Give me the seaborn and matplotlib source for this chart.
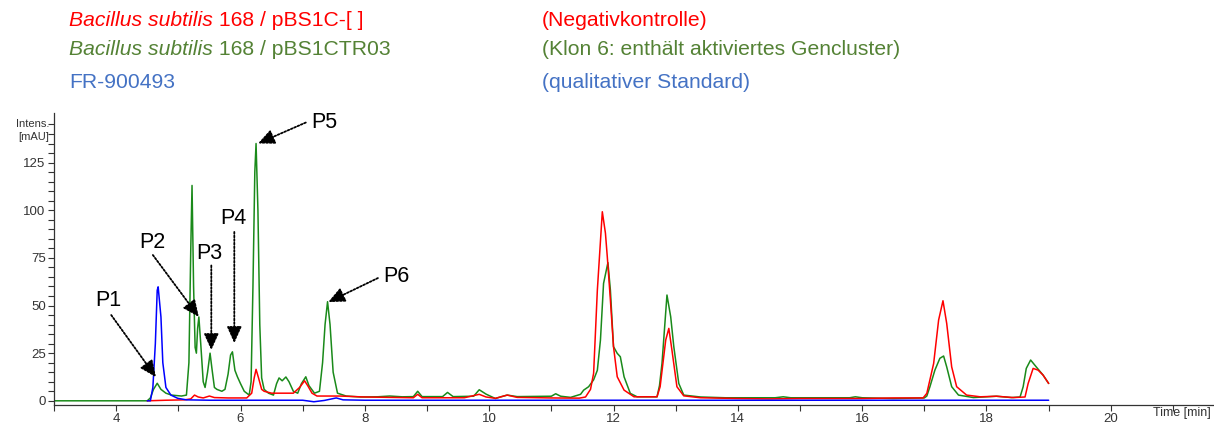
import numpy as np
import pandas as pd
import seaborn as sns
import matplotlib
matplotlib.use("Agg")
from matplotlib import pyplot as plt
from matplotlib.ticker import MultipleLocator, FixedLocator

# chromatogram traces (time [min], intensity [mAU])
green_t = [3.0, 4.50, 4.55, 4.60, 4.66, 4.72, 4.80, 4.89, 5.05, 5.13, 5.17, 5.20, 5.22, 5.245, 5.27, 5.29,
           5.31, 5.33, 5.36, 5.40, 5.43, 5.47, 5.51, 5.54, 5.58, 5.62, 5.70, 5.75, 5.80, 5.84, 5.87, 5.91,
           5.95, 6.00, 6.06, 6.14, 6.17, 6.20, 6.23, 6.25, 6.28, 6.31, 6.34, 6.38, 6.45, 6.53, 6.58, 6.62,
           6.67, 6.73, 6.78, 6.85, 6.92, 6.98, 7.05, 7.10, 7.19, 7.27, 7.32, 7.36, 7.40, 7.44, 7.49, 7.56,
           7.70, 7.93, 8.2, 8.4, 8.6, 8.78, 8.85, 8.92, 9.25, 9.33, 9.42, 9.75, 9.84, 9.95, 10.1, 10.2,
           10.29, 10.45, 11.0, 11.07, 11.15, 11.31, 11.47, 11.52, 11.60, 11.68, 11.74, 11.79, 11.84, 11.91,
           11.95, 12.00, 12.06, 12.11, 12.17, 12.27, 12.38, 12.70, 12.74, 12.78, 12.86, 12.92, 12.97, 13.05,
           13.13, 13.40, 13.8, 14.6, 14.73, 14.85, 15.80, 15.89, 16.0, 16.5, 17.0, 17.04, 17.09, 17.17,
           17.25, 17.31, 17.36, 17.44, 17.55, 17.79, 18.16, 18.40, 18.54, 18.59, 18.64, 18.71, 18.80,
           18.91, 19.00]
green_y = [0, 0, 1.5, 6, 9.2, 6, 4, 3, 2.5, 3, 20, 80, 113, 60, 28, 25,
           38, 44, 30, 10, 7, 15, 25, 17, 7, 6, 5, 6, 14, 24, 25.7, 16,
           12.6, 9, 5, 3, 10, 60, 120, 135, 100, 40, 12, 6, 4, 3, 9, 12,
           10.5, 12.5, 10, 5, 4, 9, 12.6, 8, 4, 5, 20, 40, 52, 40, 15, 4,
           2.5, 2, 2.1, 2.5, 2.1, 2.2, 5, 2.2, 2.2, 4.4, 2.2, 2.4, 5.8, 3.5, 1.2, 2.2,
           3, 2.2, 2.4, 3.7, 2.4, 1.8, 3.4, 5.6, 7.4, 11, 16, 31.9, 61.6, 72.5,
           58, 28.4, 24.9, 23.1, 12.6, 3.9, 2.1, 2.1, 8, 19.6, 55.5, 44.1, 28.4, 9.1,
           3, 2.0, 1.6, 1.6, 2.1, 1.6, 1.6, 2.1, 1.6, 1.2, 1.5, 2.5, 7.4, 16.1,
           22.3, 23.5, 17.8, 7.4, 3, 1.7, 2.4, 1.7, 2, 7.4, 17, 21.4, 17.8,
           13.5, 9.1]

red_t = [4.50, 4.8, 5.10, 5.20, 5.26, 5.32, 5.40, 5.50, 5.58, 5.80, 6.10, 6.18, 6.22, 6.25, 6.29, 6.34,
         6.38, 6.50, 6.70, 6.85, 6.95, 7.03, 7.08, 7.15, 7.23, 7.60, 8.0, 8.78, 8.85, 8.92, 9.6, 9.84,
         9.95, 10.1, 10.29, 10.45, 11.0, 11.45, 11.55, 11.63, 11.68, 11.74, 11.82, 11.87, 11.90, 11.95,
         12.00, 12.06, 12.17, 12.33, 12.70, 12.75, 12.84, 12.89, 12.94, 13.02, 13.13, 13.40, 14.0, 14.5,
         15.0, 16.0, 16.5, 16.98, 17.04, 17.15, 17.23, 17.30, 17.36, 17.44, 17.52, 17.68, 17.90, 18.16,
         18.43, 18.62, 18.67, 18.75, 18.83, 18.91, 19.00]
red_y = [0, 0.3, 0.5, 1, 3, 2, 1.5, 2.5, 1.7, 1.5, 1.5, 4, 12, 16.5, 12, 6,
         5, 4, 4, 4, 7, 10.5, 8, 4, 2.5, 2.5, 2, 1.6, 3.4, 1.6, 1.6, 3.4,
         2, 1.3, 3, 1.8, 1.5, 1.4, 2, 6, 14.4, 58, 99.2, 88, 75.6, 52.9,
         28.4, 12.6, 5.6, 2.1, 2.1, 7.4, 31.9, 38, 26.6, 7.4, 2.6, 1.6, 1.2, 1.0,
         1.2, 1.2, 1.5, 1.5, 3.9, 19.6, 42.4, 52.5, 40.6, 17.8, 7.4, 3, 2.1, 2.4,
         1.7, 2, 9.1, 17, 16.1, 13.5, 9.1]

blue_t = [4.50, 4.55, 4.59, 4.63, 4.66, 4.675, 4.72, 4.75, 4.80, 4.88, 4.99, 5.13, 5.5, 7.0, 7.18,
          7.35, 7.54, 7.65, 8.0, 19.0]
blue_y = [0, 0, 7, 30, 58, 59.8, 44, 20, 7, 3, 1.3, 0.5, 0.3, 0.3, -0.5,
          0.2, 1.5, 0.5, 0.3, 0.3]

# peak labels and the points their arrows point at
peak_labels = ["P1", "P2", "P3", "P4", "P5", "P6"]
peak_t = [4.64, 5.33, 5.53, 5.90, 6.28, 7.41]
peak_y = [12.4, 44, 26.6, 30.3, 135, 51.8]

header_species = ["Bacillus subtilis", "Bacillus subtilis", ""]
header_strain = [" 168 / pBS1C-[ ]", " 168 / pBS1CTR03", "FR-900493"]
header_note = ["(Negativkontrolle)", "(Klon 6: enthält aktiviertes Gencluster)", "(qualitativer Standard)"]

sns.set_style("ticks")
plt.rcParams['font.family'] = ['Liberation Sans', 'DejaVu Sans']

fig = plt.figure(figsize=(12.14, 4.26), dpi=100)
ax = fig.add_axes([0.0445, 0.0493, 0.955, 0.6854])

sns.lineplot(x=green_t, y=green_y, color="#1a8a1a", linewidth=1.1, ax=ax)
sns.lineplot(x=red_t, y=red_y, color="#ff0000", linewidth=1.1, ax=ax)
sns.lineplot(x=blue_t, y=blue_y, color="#0000ff", linewidth=1.1, ax=ax)

ax.set_xlim(3, 21.65)
ax.set_ylim(-2.2, 151)
ax.xaxis.set_major_locator(FixedLocator(list(range(4, 21, 2))))
ax.xaxis.set_minor_locator(MultipleLocator(1))
ax.yaxis.set_major_locator(FixedLocator(list(range(0, 126, 25))))
ax.yaxis.set_minor_locator(FixedLocator(list(range(0, 146, 5))))
ax.tick_params(which="both", direction="out", length=4, width=0.8, color="#333333",
               labelsize=9.5, labelcolor="#333333", pad=2)
ax.set_xlabel("")
ax.set_ylabel("")
sns.despine(ax=ax)
for s in ("left", "bottom"):
    ax.spines[s].set_color("#333333")
    ax.spines[s].set_linewidth(0.9)

# peak annotations: dotted arrows with solid heads
text_off = [(-0.77, 40.3), (-0.74, 38.8), (-0.04, 50.9), (-0.02, 65.6), (1.06, 11.0), (1.09, 13.2)]
start_off = [(-0.72, 32.6), (-0.74, 32.5), (0.0, 44.4), (0.0, 58.3), (0.77, 11.0), (0.80, 12.6)]
for lab, t, y, to, so in zip(peak_labels, peak_t, peak_y, text_off, start_off):
    ax.annotate("", xy=(t, y), xytext=(t + so[0], y + so[1]),
                arrowprops=dict(arrowstyle="-|>,head_length=1.0,head_width=0.45",
                                linestyle=(0, (1, 1)), linewidth=1.3, color="black",
                                shrinkA=0, shrinkB=0))
    ax.text(t + to[0], y + to[1], lab, fontsize=15.5, ha="center", va="center", color="black")

fig.text(49 / 1214, 1 - 124 / 426, "Intens.", fontsize=8, ha="right", va="center", color="#333333")
fig.text(49 / 1214, 1 - 137 / 426, "[mAU]", fontsize=8, ha="right", va="center", color="#333333")
fig.text(1182 / 1214, 1 - 413 / 426, "Time [min]", fontsize=9, ha="center", va="center", color="#333333")

# header legend text
colors = ["#ff0000", "#548235", "#4472c4"]
baselines = [26.5, 55, 88.5]
fig.canvas.draw()
renderer = fig.canvas.get_renderer()
for sp, st, note, c, b in zip(header_species, header_strain, header_note, colors, baselines):
    yb = 1 - b / 426
    x0 = 69 / 1214
    if sp:
        t1 = fig.text(x0, yb, sp, fontsize=15.2, style="italic", color=c, va="baseline")
        bb = t1.get_window_extent(renderer=renderer)
        x0 = bb.x1 / fig.bbox.width
    fig.text(x0, yb, st, fontsize=15.2, color=c, va="baseline")
    fig.text(542 / 1214, yb, note, fontsize=15.2, color=c, va="baseline")

fig.savefig("out.png", dpi=100)
plt.close()
